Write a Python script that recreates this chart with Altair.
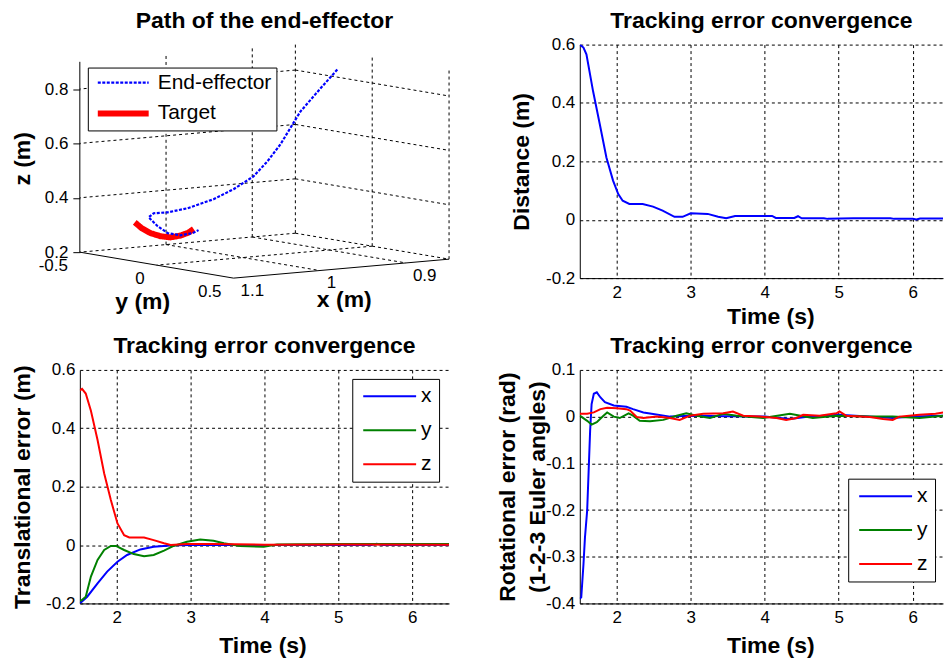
import altair as alt
import pandas as pd

FONT = "Liberation Sans"
BLUE, GREEN, RED = "#0000ff", "#008000", "#ff0000"

# ---------------------------------------------------------------- data
TIME_TICKS = [2, 3, 4, 5, 6]
DIST_TICKS = [-0.2, 0, 0.2, 0.4, 0.6]
TRANS_TICKS = [-0.2, 0, 0.2, 0.4, 0.6]
ROT_TICKS = [-0.4, -0.3, -0.2, -0.1, 0, 0.1]

# top-right: distance between end-effector and target
DIST_T = [1.5, 1.55, 1.59, 1.68, 1.77, 1.86, 1.95, 2.02, 2.08, 2.17, 2.35, 2.49, 2.62, 2.78, 2.89,
          3.0, 3.23, 3.37, 3.48, 3.6, 4.1, 4.15, 4.4, 4.45, 4.5, 4.8, 4.85, 5.2, 5.7, 5.75,
          6.0, 6.05, 6.1, 6.42]
DIST_D = [0.6, 0.59, 0.567, 0.44, 0.328, 0.213, 0.134, 0.088, 0.065, 0.054, 0.054, 0.045, 0.031, 0.01, 0.01,
          0.022, 0.02, 0.01, 0.005, 0.013, 0.013, 0.006, 0.006, 0.012, 0.005, 0.005, 0.003, 0.005, 0.005, 0.003,
          0.003, 0.001, 0.004, 0.004]

# bottom-left: translational error
TX_T = [1.5, 1.6, 1.74, 1.87, 2.01, 2.14, 2.32, 2.5, 2.77, 3.0, 5.45, 5.52, 5.6, 6.5]
TX_E = [-0.2, -0.177, -0.131, -0.091, -0.057, -0.034, -0.015, -0.006, -0.001, 0.0, 0.0, 0.004, 0.0, 0.0]
TY_T = [1.5, 1.52, 1.58, 1.65, 1.74, 1.83, 1.92, 1.99, 2.1, 2.23, 2.37, 2.5, 2.64, 2.77, 2.95, 3.13,
        3.31, 3.45, 3.67, 3.99, 4.17, 4.5, 5.0, 6.5]
TY_E = [-0.19, -0.19, -0.177, -0.108, -0.051, -0.017, -0.003, -0.003, -0.017, -0.031, -0.038, -0.034,
        -0.019, -0.003, 0.011, 0.019, 0.015, 0.006, -0.003, -0.006, 0.002, 0.003, 0.004, 0.004]
TZ_T = [1.5, 1.53, 1.58, 1.65, 1.74, 1.83, 1.92, 2.01, 2.1, 2.17, 2.37, 2.5, 2.64, 2.73, 2.95, 3.3,
        3.6, 4.0, 5.0, 6.5]
TZ_E = [0.53, 0.535, 0.519, 0.46, 0.36, 0.245, 0.154, 0.074, 0.034, 0.026, 0.026, 0.017, 0.006, 0.0,
        0.004, 0.004, 0.003, 0.001, 0.002, 0.001]

# bottom-right: rotational error
RX_T = [1.5, 1.52, 1.55, 1.57, 1.6, 1.62, 1.64, 1.66, 1.69, 1.73, 1.78, 1.84, 1.96, 2.13, 2.22, 2.36,
        2.47, 2.72, 3.0, 3.5, 4.0, 4.34, 4.6, 5.0, 5.73, 6.0, 6.42]
RX_E = [-0.39, -0.387, -0.316, -0.259, -0.201, -0.116, -0.03, 0.027, 0.049, 0.052, 0.041, 0.031, 0.024,
        0.021, 0.016, 0.009, 0.006, 0.0, 0.002, 0.001, 0.0, -0.005, 0.0, 0.004, -0.003, 0.0, 0.002]
RY_T = [1.5, 1.6, 1.66, 1.73, 1.82, 1.87, 1.96, 2.04, 2.16, 2.22, 2.31, 2.45, 2.63, 2.81, 2.94, 3.08,
        3.26, 3.44, 3.62, 3.98, 4.34, 4.65, 4.97, 5.42, 5.73, 6.09, 6.41]
RY_E = [0.002, -0.009, -0.017, -0.012, 0.002, 0.009, 0.0, -0.003, 0.007, 0.002, -0.009, -0.01, -0.007,
        0.002, 0.007, 0.002, -0.003, 0.006, 0.002, -0.003, 0.006, -0.003, 0.002, 0.0, 0.0, -0.003, 0.002]
RZ_T = [1.5, 1.6, 1.69, 1.78, 1.87, 2.0, 2.13, 2.18, 2.27, 2.36, 2.54, 2.72, 2.85, 2.99, 3.17, 3.44,
        3.57, 3.71, 3.93, 4.16, 4.29, 4.43, 4.52, 4.74, 4.97, 5.01, 5.1, 5.42, 5.6, 5.73, 5.82, 6.09,
        6.31, 6.42]
RZ_E = [0.006, 0.006, 0.009, 0.016, 0.019, 0.018, 0.016, 0.013, -0.001, -0.003, 0.0, -0.003, -0.007,
        0.002, 0.006, 0.007, 0.011, 0.002, 0.0, -0.003, -0.007, -0.003, 0.004, 0.002, 0.007, 0.011,
        0.002, -0.001, -0.005, -0.007, 0.0, 0.004, 0.006, 0.009]

# top-left: 3-D path (m)
X_LIM = [0.85, 1.1]
Y_LIM = [-0.5, 0.5]
Z_LIM = [0.2, 0.9]
X_TICKS = [0.9, 1.0, 1.1]
X_TICK_LABELS = ["0.9", "1", "1.1"]
Y_TICKS = [-0.5, 0.0, 0.5]
Y_TICK_LABELS = ["-0.5", "0", "0.5"]
Z_TICKS = [0.2, 0.4, 0.6, 0.8]

EE_X = [0.87, 0.88, 0.89, 0.91, 0.92, 0.94, 0.96, 0.98, 1.0, 1.02, 1.03, 1.04, 1.045, 1.05, 1.05, 1.05, 1.05]
EE_Y = [-0.115, -0.169, -0.243, -0.261, -0.289, -0.268, -0.285, -0.303, -0.36, -0.377, -0.412, -0.389,
        -0.302, -0.209, -0.125, -0.047, -0.008]
EE_Z = [0.844, 0.772, 0.683, 0.566, 0.504, 0.456, 0.413, 0.38, 0.347, 0.336, 0.332, 0.322, 0.299, 0.284,
        0.284, 0.299, 0.314]
TG_X = [1.05, 1.05, 1.05, 1.05, 1.05, 1.05, 1.05, 1.05]
TG_Y = [-0.423, -0.378, -0.319, -0.255, -0.19, -0.125, -0.073, -0.04]
TG_Z = [0.303, 0.286, 0.273, 0.268, 0.27, 0.283, 0.299, 0.315]
SERIES_3D = ["End-effector", "Target"]

# ---------------------------------------------------------------- layout
LEFT, TOP = 79, 43
W_LEFT, W_RIGHT, H = 370, 364, 234
GAP_X, GAP_Y = 131, 92
PAGE_W, PAGE_H = 944, 661
TITLE_OFFSET = 3
TITLE_OFFSET_3D = -30.6   # counted from the canvas top (the page frame lives in that panel)

# MATLAB-like view: page position of corner (x=1.1, y=-0.5, z=0.2) and pixel step per unit
VIEW_ORIGIN = (79.0, 251.0)
VIEW_EX = (-864.0, 76.0)
VIEW_EY = (154.0, 26.0)
VIEW_EZ = (0.0, -272.5)


def project(x, y, z):
    dx, dy, dz = x - X_LIM[1], y - Y_LIM[0], z - Z_LIM[0]
    u = VIEW_ORIGIN[0] + dx * VIEW_EX[0] + dy * VIEW_EY[0] + dz * VIEW_EZ[0]
    v = VIEW_ORIGIN[1] + dx * VIEW_EX[1] + dy * VIEW_EY[1] + dz * VIEW_EZ[1]
    return u, v


def seg_row(p, q):
    u1, v1 = project(*p)
    u2, v2 = project(*q)
    return {"u": u1, "v": v1, "u2": u2, "v2": v2}


xa, xb = X_LIM
ya, yb = Y_LIM
za, zb = Z_LIM
wall_xs = [xa] + [t for t in X_TICKS if xa < t < xb]
grid_rows = []
for xv in wall_xs:
    grid_rows.append(seg_row((xv, ya, za), (xv, yb, za)))
    grid_rows.append(seg_row((xv, ya, za), (xv, ya, zb)))
for yv in [t for t in Y_TICKS if t < yb]:
    grid_rows.append(seg_row((xa, yv, za), (xb, yv, za)))
for yv in [t for t in Y_TICKS if t > ya]:
    grid_rows.append(seg_row((xa, yv, za), (xa, yv, zb)))
for zv in [t for t in Z_TICKS if t > za]:
    grid_rows.append(seg_row((xa, ya, zv), (xb, ya, zv)))
    grid_rows.append(seg_row((xa, ya, zv), (xa, yb, zv)))
grid_df = pd.DataFrame(grid_rows)
axis_df = pd.DataFrame([seg_row((xb, ya, za), (xb, yb, za)), seg_row((xb, yb, za), (xa, yb, za))])


def path_df(xs, ys, zs, name):
    rows = []
    for i, (x, y, z) in enumerate(zip(xs, ys, zs)):
        u, v = project(x, y, z)
        rows.append({"u": u, "v": v, "i": i, "series": name})
    return pd.DataFrame(rows)


ee_df = path_df(EE_X, EE_Y, EE_Z, SERIES_3D[0])
tg_df = path_df(TG_X, TG_Y, TG_Z, SERIES_3D[1])

ytick_df = pd.DataFrame([{"u": project(xb, t, za)[0], "v": project(xb, t, za)[1], "label": l}
                         for t, l in zip(Y_TICKS, Y_TICK_LABELS)])
xtick_df = pd.DataFrame([{"u": project(t, yb, za)[0], "v": project(t, yb, za)[1], "label": l}
                         for t, l in zip(X_TICKS, X_TICK_LABELS)])
ymid = project(xb, sum(Y_LIM) / 2, za)
xmid = project(sum(X_LIM) / 2, yb, za)
ytitle_df = pd.DataFrame([{"u": ymid[0], "v": ymid[1], "label": "y (m)"}])
xtitle_df = pd.DataFrame([{"u": xmid[0], "v": xmid[1], "label": "x (m)"}])
zaxis_u = project(xb, ya, za)[0]
zaxis_df = pd.DataFrame([{"u": zaxis_u, "z1": za, "z2": zb}])
z_scale_dom = [za + (VIEW_ORIGIN[1] - (TOP + H)) / -VIEW_EZ[1], za + (VIEW_ORIGIN[1] - TOP) / -VIEW_EZ[1]]
# invisible page frame that pins the figure to the 944x661 canvas
frame_df = pd.DataFrame([{"u": 0.4, "v": 0.4, "u2": PAGE_W - 0.4, "v2": PAGE_H - 0.4}])

# ---------------------------------------------------------------- helpers
LABEL_EXPR = "datum.value == 0 ? '0' : (datum.value < 0 ? '-' : '') + format(abs(datum.value), '.1f')"


def title(text, offset=TITLE_OFFSET):
    return alt.TitleParams(text=text, font=FONT, fontSize=23, fontWeight="bold", color="black",
                           offset=offset, anchor="middle", frame="group")


def legend(lx, ly, half_len, pad, row_pad, sym_off, lab_off, stroke_w=None):
    a = half_len / 6.0
    kw = dict(orient="none", legendX=lx, legendY=ly, direction="vertical", title=None,
              symbolType=f"M-{a:.4f},0H{a:.4f}", symbolSize=144, symbolOffset=sym_off,
              labelOffset=lab_off, padding=pad, rowPadding=row_pad, labelFont=FONT,
              labelFontSize=21, labelColor="black", strokeColor="black", fillColor="white")
    if stroke_w is not None:
        kw["symbolStrokeWidth"] = stroke_w
    return alt.Legend(**kw)


def x_axis(title_x, title_y):
    return alt.Axis(values=TIME_TICKS, format="d", title="Time (s)", grid=True, gridColor="black",
                    gridDash=[3, 3], gridWidth=1, gridOpacity=1, domainColor="black", ticks=False,
                    tickSize=0, labelPadding=6, labelFont=FONT, labelFontSize=17, labelColor="black",
                    labelFlush=False, labelOverlap=False, titleFont=FONT, titleFontSize=23,
                    titleFontWeight="bold", titleColor="black", titleX=title_x, titleY=title_y,
                    titleBaseline="middle", titleAlign="center")


def y_axis(ttl, values, title_x, line_h=28):
    return alt.Axis(values=values, labelExpr=LABEL_EXPR, title=ttl, grid=True, gridColor="black",
                    gridDash=[3, 3], gridWidth=1, gridOpacity=1, domainColor="black", ticks=False,
                    tickSize=0, labelPadding=5, labelFont=FONT, labelFontSize=17, labelColor="black",
                    labelFlush=False, labelOverlap=False, titleFont=FONT, titleFontSize=23,
                    titleFontWeight="bold", titleColor="black", titleX=title_x, titleY=H / 2,
                    titleAngle=270, titleBaseline="middle", titleAlign="center", titleLineHeight=line_h)


# ---------------------------------------------------------------- 3-D panel
XS = alt.Scale(domain=[LEFT, LEFT + W_LEFT], nice=False, zero=False)
YS = alt.Scale(domain=[TOP, TOP + H], nice=False, zero=False, reverse=True)
LEG3D = legend(8, 23, 25.5, 4.5, 8, 20.5, 24)


def px(field="u"):
    return alt.X(f"{field}:Q", scale=XS, axis=None)


def py(field="v"):
    return alt.Y(f"{field}:Q", scale=YS, axis=None)


frame = alt.Chart(frame_df).mark_rule(color="white", strokeOpacity=0, strokeWidth=1).encode(
    x=px(), y=py(), x2="u2:Q", y2="v2:Q")
grid3d = alt.Chart(grid_df).mark_rule(color="black", strokeWidth=1, strokeDash=[3, 3]).encode(
    x=px(), y=py(), x2="u2:Q", y2="v2:Q")
axes3d = alt.Chart(axis_df).mark_rule(color="black", strokeWidth=1).encode(
    x=px(), y=py(), x2="u2:Q", y2="v2:Q")
zaxis = alt.Chart(zaxis_df).mark_rule(color="black", strokeWidth=1).encode(
    x=px(),
    y=alt.Y("z1:Q", scale=alt.Scale(domain=z_scale_dom, nice=False, zero=False),
            axis=alt.Axis(orient="left", values=Z_TICKS, format=".1f", domain=False, grid=False,
                          ticks=True, tickSize=7, tickColor="black", labelPadding=5, labelFont=FONT,
                          labelFontSize=17, labelColor="black", labelFlush=False, labelOverlap=False,
                          title="z (m)", titleFont=FONT, titleFontSize=23, titleFontWeight="bold",
                          titleColor="black", titleX=22 - LEFT, titleY=157 - TOP, titleAngle=270,
                          titleBaseline="middle", titleAlign="center")),
    y2="z2:Q")

color3d = alt.Color("series:N", scale=alt.Scale(domain=SERIES_3D, range=[BLUE, RED]), legend=LEG3D)
dash3d = alt.StrokeDash("series:N", scale=alt.Scale(domain=SERIES_3D, range=[[3, 1.5], [1, 0]]),
                        legend=LEG3D)
width3d = alt.StrokeWidth("series:N", scale=alt.Scale(type="ordinal", domain=SERIES_3D, range=[2.2, 6]),
                          legend=LEG3D)

target = alt.Chart(tg_df).mark_line().encode(
    x=px(), y=py(), order="i:Q", color=color3d, strokeDash=dash3d, strokeWidth=width3d)
effector = alt.Chart(ee_df).mark_line().encode(
    x=px(), y=py(), order="i:Q", color=color3d, strokeDash=dash3d, strokeWidth=width3d)

ytick_text = alt.Chart(ytick_df).mark_text(align="right", baseline="middle", dx=-12, dy=14, font=FONT,
                                           fontSize=17, color="black").encode(x=px(), y=py(), text="label:N")
xtick_text = alt.Chart(xtick_df).mark_text(align="left", baseline="middle", dx=7, dy=13, font=FONT,
                                           fontSize=17, color="black").encode(x=px(), y=py(), text="label:N")
ytitle_text = alt.Chart(ytitle_df).mark_text(align="center", baseline="middle", dx=-14, dy=37, font=FONT,
                                             fontSize=23, fontWeight="bold", color="black").encode(
    x=px(), y=py(), text="label:N")
xtitle_text = alt.Chart(xtitle_df).mark_text(align="center", baseline="middle", dx=3, dy=31, font=FONT,
                                             fontSize=23, fontWeight="bold", color="black").encode(
    x=px(), y=py(), text="label:N")

panel3d = alt.layer(frame, grid3d, axes3d, zaxis, target, effector, ytick_text, xtick_text,
                    ytitle_text, xtitle_text).resolve_scale(y="independent").properties(
    width=W_LEFT, height=H, title=title("Path of the end-effector", TITLE_OFFSET_3D))

# ---------------------------------------------------------------- 2-D panels
dist_df = pd.DataFrame({"t": DIST_T, "e": DIST_D})
dist_df["i"] = range(len(dist_df))
panel_dist = alt.Chart(dist_df).mark_line(strokeWidth=2, clip=True, color=BLUE).encode(
    x=alt.X("t:Q", scale=alt.Scale(domain=[1.5, 6.41], nice=False, zero=False),
            axis=x_axis(W_RIGHT / 2 + 9, 38)),
    y=alt.Y("e:Q", scale=alt.Scale(domain=[-0.2, 0.6], nice=False, zero=False),
            axis=y_axis("Distance (m)", DIST_TICKS, -58)),
    order="i:Q",
).properties(width=W_RIGHT, height=H, title=title("Tracking error convergence"))


def xyz_df(tx, ex, ty, ey, tz, ez):
    parts = []
    for name, t, e in (("x", tx, ex), ("y", ty, ey), ("z", tz, ez)):
        d = pd.DataFrame({"t": t, "e": e})
        d["s"] = name
        d["i"] = range(len(d))
        parts.append(d)
    return pd.concat(parts, ignore_index=True)


XYZ_COLOR = alt.Scale(domain=["x", "y", "z"], range=[BLUE, GREEN, RED])

trans_df = xyz_df(TX_T, TX_E, TY_T, TY_E, TZ_T, TZ_E)
panel_trans = alt.Chart(trans_df).mark_line(strokeWidth=2, clip=True).encode(
    x=alt.X("t:Q", scale=alt.Scale(domain=[1.5, 6.5], nice=False, zero=False),
            axis=x_axis(W_LEFT / 2 - 2, 42)),
    y=alt.Y("e:Q", scale=alt.Scale(domain=[-0.2, 0.6], nice=False, zero=False),
            axis=y_axis("Translational error (m)", TRANS_TICKS, -57)),
    color=alt.Color("s:N", scale=XYZ_COLOR, legend=legend(273, 9, 26.5, 7, 12, 20, 21, 2)),
    order="i:Q",
).properties(width=W_LEFT, height=H, title=title("Tracking error convergence"))

rot_df = xyz_df(RX_T, RX_E, RY_T, RY_E, RZ_T, RZ_E)
panel_rot = alt.Chart(rot_df).mark_line(strokeWidth=2, clip=True).encode(
    x=alt.X("t:Q", scale=alt.Scale(domain=[1.5, 6.41], nice=False, zero=False),
            axis=x_axis(W_RIGHT / 2 + 9, 42)),
    y=alt.Y("e:Q", scale=alt.Scale(domain=[-0.4, 0.1], nice=False, zero=False),
            axis=y_axis(["Rotational error (rad)", "(1-2-3 Euler angles)"], ROT_TICKS, -72, 30)),
    color=alt.Color("s:N", scale=XYZ_COLOR, legend=legend(269, 109, 26.5, 7, 12, 20, 21, 2)),
    order="i:Q",
).properties(width=W_RIGHT, height=H, title=title("Tracking error convergence"))

chart = alt.concat(panel3d, panel_dist, panel_trans, panel_rot, columns=2,
                   spacing={"row": GAP_Y, "column": GAP_X}, bounds="flush").resolve_scale(
    color="independent", strokeDash="independent", strokeWidth="independent"
).properties(
    padding=0, background="white"
).configure_view(stroke="transparent")

chart.save("out.html", embed_options={"renderer": "svg", "actions": False})
